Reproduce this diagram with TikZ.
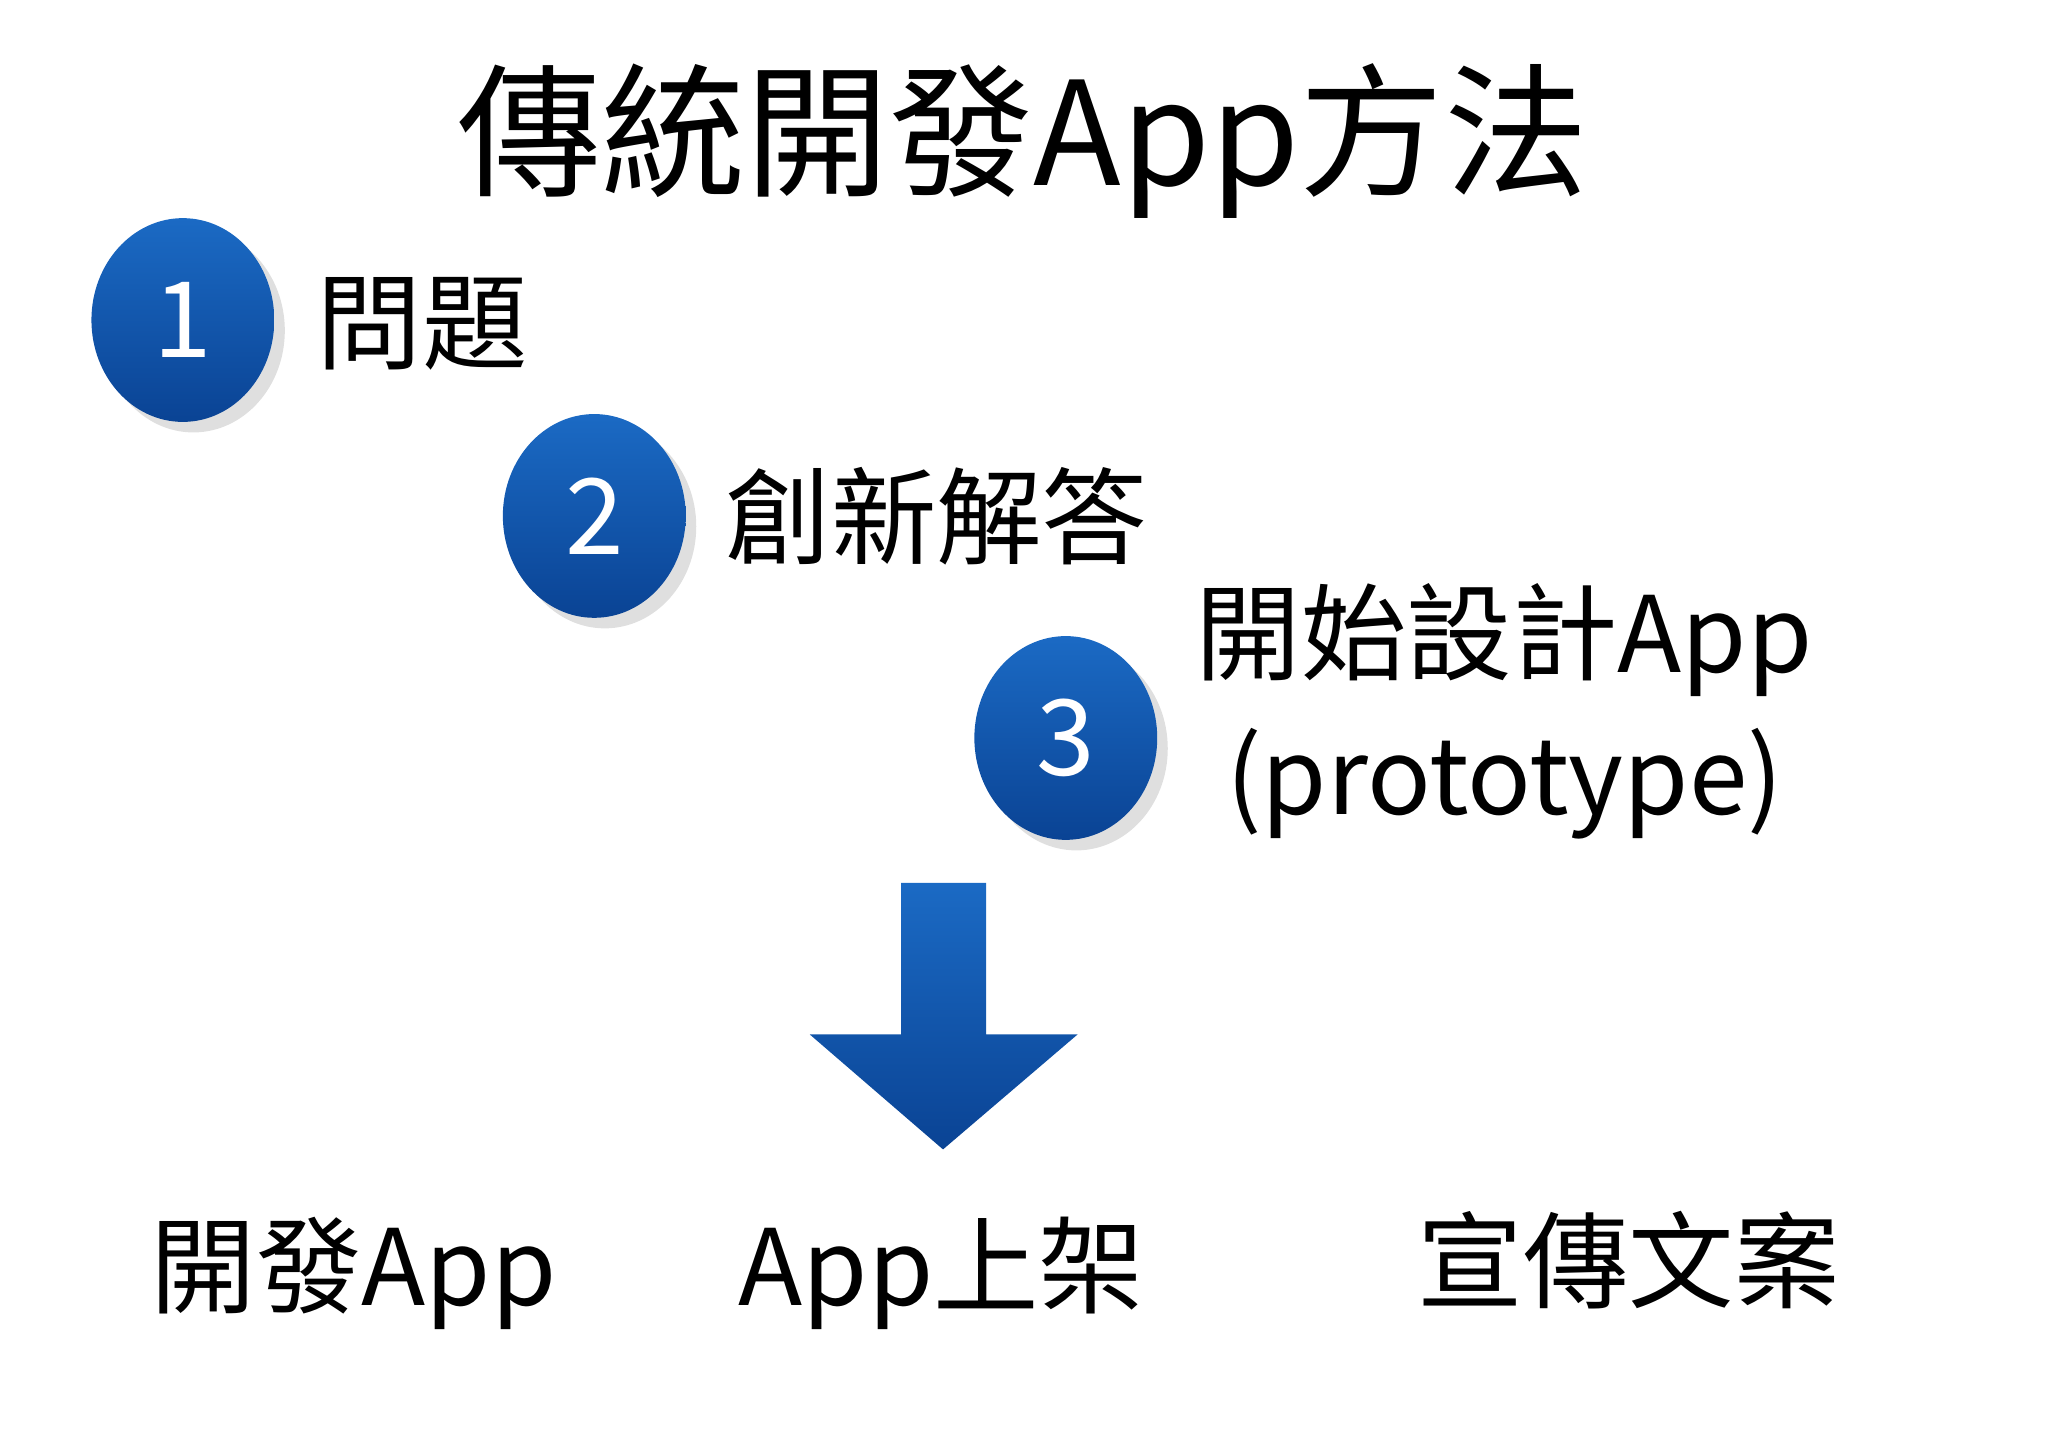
\documentclass[tikz,border=0pt]{standalone}
\usepackage{fontspec}
\setmainfont{Noto Sans CJK TC}
\usetikzlibrary{shadows,shapes.geometric}
\definecolor{btop}{HTML}{1B6AC4}
\definecolor{bbot}{HTML}{0A4394}
\begin{document}
\begin{tikzpicture}[x=0.01306cm,y=-0.01306cm,
  ball/.style={ellipse,minimum width=140*0.01306cm,minimum height=156*0.01306cm,inner sep=0,
    top color=btop,bottom color=bbot,draw=none,drop shadow={opacity=0.25,shadow xshift=3pt,shadow yshift=-3pt},
    text=white,font=\fontsize{30}{32}\selectfont},
  lbl/.style={anchor=west,font=\fontsize{30}{34}\selectfont,inner sep=0}]
\useasboundingbox (0,0) rectangle (1568,1108);
\node[font=\fontsize{41}{44}\selectfont] (title) at (783,108) {傳統開發App方法};
\node[ball] (c1) at (140,245) {1};
\node[lbl] (t1) at (242,248) {問題};
\node[ball] (c2) at (455,395) {2};
\node[lbl] (t2) at (555,395) {創新解答};
\node[ball] (c3) at (816,565) {3};
\node[lbl] (t3) at (915,490) {開始設計App};
\node[font=\fontsize{30}{34}\selectfont] (t4) at (1152,600) {(prototype)};
\shade[top color=btop,bottom color=bbot] (690,676) -- (755,676) -- (755,792) -- (825,792) -- (722,880) -- (620,792) -- (690,792) -- cycle;
\node[lbl] (b1) at (115,975) {開發App};
\node[lbl] (b2) at (565,975) {App上架};
\node[lbl] (b3) at (1085,965) {宣傳文案};
\end{tikzpicture}
\end{document}
